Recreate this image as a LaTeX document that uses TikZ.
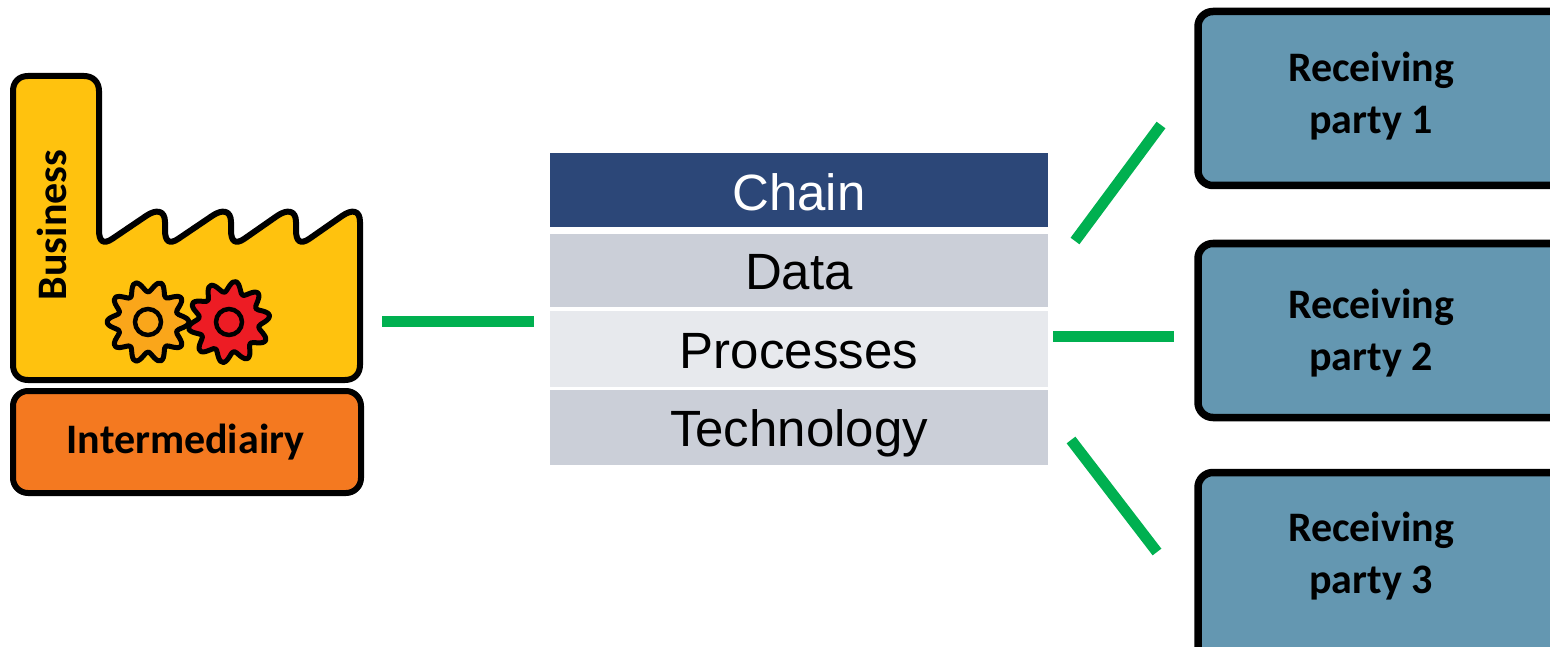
\documentclass[tikz,border=0pt]{standalone}
\usepackage{fontspec}
\setmainfont{Liberation Sans}
\newfontfamily\carl{Carlito}
\definecolor{fyellow}{HTML}{FFC20E}
\definecolor{forange}{HTML}{F47920}
\definecolor{gorange}{HTML}{FAA61A}
\definecolor{gred}{HTML}{ED1C24}
\definecolor{rblue}{HTML}{6497B1}
\definecolor{cnavy}{HTML}{2C4778}
\definecolor{cgrey}{HTML}{CBCFD8}
\definecolor{clight}{HTML}{E7E9ED}
\definecolor{lgreen}{HTML}{00B050}
\tikzset{
 outl/.style={draw=black,line width=6pt,line join=round},
 recv/.style={draw=black,line width=7.5pt,fill=rblue,rounded corners=15pt},
 boldtext/.style={font=\carl\bfseries\fontsize{42}{52}\selectfont},
 rlabel/.style={boldtext,align=center,text=black},
 row/.style={minimum width=498pt,inner sep=0pt,outer sep=0pt,font=\fontsize{51}{60}\selectfont},
 link/.style={draw=lgreen,line width=11pt},
 gearline/.style={draw=black,line width=5pt,line join=round},
 holeline/.style={draw=black,line width=4.5pt}
}
\newcommand{\gearshape}[4]{% cx cy phase fill
 \draw[gearline,fill=#4] plot[smooth cycle,samples=81,domain=0:355.5,variable=\t]
  ({#1+(35.5+5.5*cos(10*\t+#3))*cos(\t)},{#2+(35.5+5.5*cos(10*\t+#3))*sin(\t)});
 \draw[holeline,fill=#4] (#1,#2) circle (13);
}
\begin{document}
\begin{tikzpicture}[x=1pt,y=-1pt]
\useasboundingbox (0,0) rectangle (1550,647);
\clip (0,0) rectangle (1550,647);
% factory
\draw[outl,fill=fyellow]
 (13,91) .. controls (13,82) and (19,76) .. (28,76) -- (84,76)
 .. controls (93,76) and (99,82) .. (99,91) -- (99,230)
 .. controls (99,241) and (103,245) .. (112,239)
 -- (146,216) .. controls (156,209) and (165,210) .. (165,222) -- (165,230)
 .. controls (165,241) and (169,245) .. (178,239)
 -- (212,216) .. controls (222,209) and (231,210) .. (231,222) -- (231,230)
 .. controls (231,241) and (235,245) .. (244,239)
 -- (277,216) .. controls (287,209) and (296,210) .. (296,222) -- (296,230)
 .. controls (296,241) and (300,245) .. (309,239)
 -- (342,216) .. controls (352,209) and (360,210) .. (360,222) -- (360,365)
 .. controls (360,374) and (354,380) .. (345,380) -- (28,380)
 .. controls (19,380) and (13,374) .. (13,365) -- cycle;
\node[rotate=90,boldtext] (business) at (52,225) {Business};
\gearshape{148}{322}{0}{gorange}
\gearshape{229}{322}{90}{gred}
\node[outl,fill=forange,rounded corners=15pt,minimum width=348pt,minimum height=102pt,inner sep=0pt,boldtext] (inter) at (187,442) {\hspace*{-3pt}Intermediairy};
% table
\node[row,fill=cnavy,text=white,text height=58pt,text depth=16pt] (chain) at (799,190) {Chain};
\node[row,fill=cgrey,text height=55pt,text depth=18pt] (data) at (799,270.5) {Data};
\node[row,fill=clight,text height=57pt,text depth=19pt] (proc) at (799,349) {Processes};
\node[row,fill=cgrey,text height=56pt,text depth=19pt] (tech) at (799,427.5) {Technology};
% receiving boxes
\draw[recv] (1198,11.5) rectangle (1580,185.5);
\node[rlabel] (r1) at (1371,96) {Receiving\\party 1};
\draw[recv] (1198,243.5) rectangle (1580,417.5);
\node[rlabel] (r2) at (1371,333) {Receiving\\party 2};
\draw[recv] (1198,472.5) rectangle (1580,680);
\node[rlabel] (r3) at (1371,556) {Receiving\\party 3};
% connectors
\coordinate (l1) at (382,321.5); \coordinate (l2) at (534,321.5);
\coordinate (m1) at (1053,336); \coordinate (m2) at (1174,336);
\coordinate (t1) at (1075,241); \coordinate (t2) at (1161,125);
\coordinate (b1) at (1071,440); \coordinate (b2) at (1157,552);
\draw[link] (l1) -- (l2);
\draw[link] (m1) -- (m2);
\draw[link] (t1) -- (t2);
\draw[link] (b1) -- (b2);
\end{tikzpicture}
\end{document}
